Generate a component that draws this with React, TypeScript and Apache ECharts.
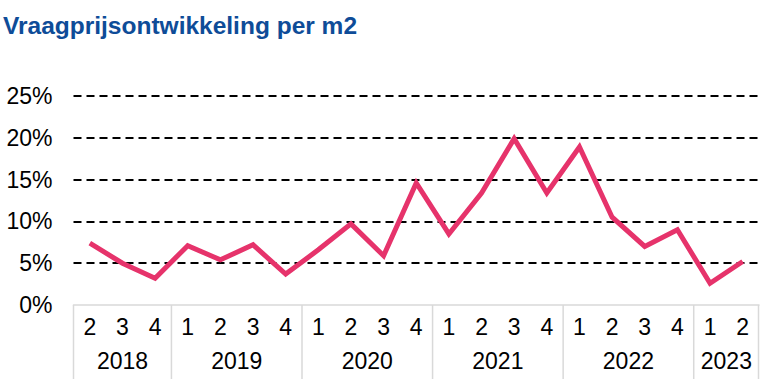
import React, { useEffect, useRef } from "react";
import * as echarts from "echarts";

const title = "Vraagprijsontwikkeling per m2";
const quarterLabels = ["2", "3", "4", "1", "2", "3", "4", "1", "2", "3", "4", "1", "2", "3", "4", "1", "2", "3", "4", "1", "2"];
const priceChange = [7.4, 5.0, 3.2, 7.1, 5.4, 7.2, 3.7, 6.6, 9.7, 5.9, 14.6, 8.5, 13.4, 19.9, 13.4, 18.9, 10.5, 7.0, 9.0, 2.6, 5.2];
const years = ["2018", "2019", "2020", "2021", "2022", "2023"];
const quartersPerYear = [3, 4, 4, 4, 4, 2];
const yTicks = { min: 0, max: 25, interval: 5 };

const FONT = "'Liberation Sans', Arial, sans-serif";

export default function App() {
  const ref = useRef<HTMLDivElement>(null);

  useEffect(() => {
    if (!ref.current) return;
    const chart = echarts.init(ref.current, null, { renderer: "svg" });

    const yearGroups: any[] = [];
    let start = 0;
    years.forEach((y, i) => {
      yearGroups.push([start, 0, quartersPerYear[i], y, i === years.length - 1 ? 1 : 0]);
      start += quartersPerYear[i];
    });

    chart.setOption({
      animation: false,
      title: {
        text: title,
        left: 3,
        top: 13,
        padding: 0,
        textStyle: { fontFamily: FONT, fontSize: 24.5, fontWeight: "bold", color: "#0E4C98" },
      },
      grid: { left: 73.5, right: 3, top: 96, bottom: 74, containLabel: false },
      xAxis: {
        type: "category",
        data: quarterLabels,
        boundaryGap: true,
        axisLine: { show: true, lineStyle: { color: "#d9d9d9", width: 1.5 } },
        axisTick: { show: false },
        axisLabel: { interval: 0, fontFamily: FONT, fontSize: 23, color: "#000", margin: 10 },
        splitLine: { show: false },
      },
      yAxis: {
        type: "value",
        min: yTicks.min,
        max: yTicks.max,
        interval: yTicks.interval,
        axisLine: { show: false },
        axisTick: { show: false },
        axisLabel: { formatter: "{value}%", fontFamily: FONT, fontSize: 23, color: "#000", margin: 21 },
        splitLine: {
          show: true,
          lineStyle: { color: ["transparent", "#000", "#000", "#000", "#000", "#000"], width: 1.8, type: [8, 5] },
        },
      },
      series: [
        {
          type: "line",
          data: priceChange,
          symbol: "none",
          lineStyle: { color: "#E6336B", width: 5, join: "miter" },
          z: 5,
        },
        {
          type: "custom",
          clip: false,
          silent: true,
          data: yearGroups,
          encode: { x: 0, y: 1 },
          renderItem: (params: any, api: any) => {
            const s = api.value(0);
            const count = api.value(2);
            const label = years[params.dataIndex];
            const isLast = api.value(4) === 1;
            const bw = api.size([1, 0])[0];
            const p = api.coord([s, 0]);
            const left = p[0] - bw / 2;
            const right = left + count * bw;
            const y0 = p[1];
            const children: any[] = [
              {
                type: "line",
                shape: { x1: left, y1: y0, x2: left, y2: y0 + 80 },
                style: { stroke: "#d9d9d9", lineWidth: 1.5 },
              },
              {
                type: "text",
                style: {
                  text: label,
                  x: (left + right) / 2,
                  y: y0 + 56,
                  align: "center",
                  verticalAlign: "middle",
                  fontFamily: FONT,
                  fontSize: 23,
                  fill: "#000",
                },
              },
            ];
            if (isLast) {
              children.push({
                type: "line",
                shape: { x1: right - 0.5, y1: y0, x2: right - 0.5, y2: y0 + 80 },
                style: { stroke: "#d9d9d9", lineWidth: 1.5 },
              });
            }
            return { type: "group", children };
          },
        },
      ],
    });

    return () => chart.dispose();
  }, []);

  return (
    <div
      ref={ref}
      style={{ position: "fixed", left: 0, top: 0, width: 762, height: 379, background: "#fff" }}
    />
  );
}
